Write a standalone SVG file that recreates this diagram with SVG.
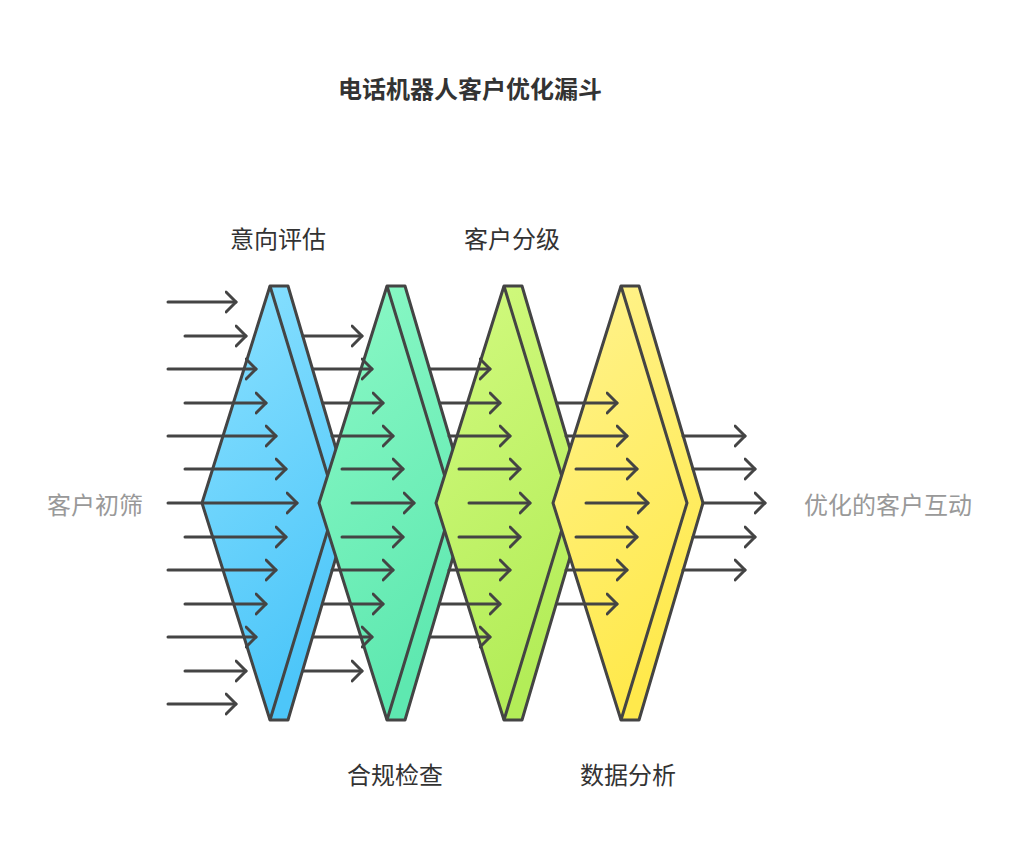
<svg xmlns="http://www.w3.org/2000/svg" width="1024" height="857" viewBox="0 0 1024 857">
<style>
.s{stroke:#444;stroke-width:3;stroke-linejoin:round}
.a{stroke:#444;stroke-width:3;fill:none;stroke-linecap:round;marker-end:url(#h)}
text{font-family:"Noto Sans CJK SC","Noto Sans",sans-serif;font-size:24px;text-anchor:middle;dominant-baseline:central}
.l{fill:#333}.g{fill:#999}
</style>
<defs>
<marker id="h" markerWidth="14" markerHeight="24" refX="11" refY="12" orient="auto" markerUnits="userSpaceOnUse"><path d="M1,2 L11,12 L1,22" fill="none" stroke="#444" stroke-width="3" stroke-linecap="round" stroke-linejoin="round"/></marker>
<linearGradient id="g1" x1="0" y1="0" x2="0.3" y2="1"><stop offset="0" stop-color="#8BE1FF"/><stop offset="1" stop-color="#4DC6F9"/></linearGradient>
<linearGradient id="g2" x1="0" y1="0" x2="0.3" y2="1"><stop offset="0" stop-color="#8CF9C6"/><stop offset="1" stop-color="#5EE8B0"/></linearGradient>
<linearGradient id="g3" x1="0" y1="0" x2="0.3" y2="1"><stop offset="0" stop-color="#D3FA80"/><stop offset="1" stop-color="#B3ED58"/></linearGradient>
<linearGradient id="g4" x1="0" y1="0" x2="0.3" y2="1"><stop offset="0" stop-color="#FFF38F"/><stop offset="1" stop-color="#FFE94C"/></linearGradient>
<g id="f"><path class="s" d="M270,286 H288 L352,503 L288,720 H270 L202,503 Z"/><path class="s" fill="none" d="M270,286 L336,503 L270,720"/></g>
</defs>
<text x="470" y="87" class="l" font-weight="bold" style="font-size:24px">电话机器人客户优化漏斗</text>
<g id="stage1"><use href="#f" fill="url(#g1)"/><text x="278" y="237" class="l">意向评估</text></g>
<g id="stage2"><use href="#f" x="117" fill="url(#g2)"/><text x="395" y="773" class="l">合规检查</text></g>
<g id="stage3"><use href="#f" x="234" fill="url(#g3)"/><text x="512" y="237" class="l">客户分级</text></g>
<g id="stage4"><use href="#f" x="351" fill="url(#g4)"/><text x="628" y="773" class="l">数据分析</text></g>
<g id="input"><text x="95" y="503" class="g">客户初筛</text></g>
<g id="output"><text x="888" y="503" class="g">优化的客户互动</text></g>
<g id="connectors">
<path class="a" d="M168,302H236"/><path class="a" d="M185,336H246"/><path class="a" d="M168,369H256"/><path class="a" d="M185,403H266"/><path class="a" d="M168,436H276"/><path class="a" d="M185,469H286"/><path class="a" d="M168,503H297"/><path class="a" d="M185,537H286"/><path class="a" d="M168,570H276"/><path class="a" d="M185,604H266"/><path class="a" d="M168,637H256"/><path class="a" d="M185,671H246"/><path class="a" d="M168,704H236"/>
<path class="a" d="M303,336H362"/><path class="a" d="M313,369H372"/><path class="a" d="M323,403H383"/><path class="a" d="M332,436H393"/><path class="a" d="M342,469H403"/><path class="a" d="M352,503H414"/><path class="a" d="M342,537H403"/><path class="a" d="M332,570H393"/><path class="a" d="M323,604H383"/><path class="a" d="M313,637H372"/><path class="a" d="M303,671H362"/>
<path class="a" d="M430,369H490"/><path class="a" d="M440,403H500"/><path class="a" d="M449,436H510"/><path class="a" d="M459,469H520"/><path class="a" d="M469,503H530"/><path class="a" d="M459,537H520"/><path class="a" d="M449,570H510"/><path class="a" d="M440,604H500"/><path class="a" d="M430,637H490"/>
<path class="a" d="M557,403H617"/><path class="a" d="M566,436H627"/><path class="a" d="M576,469H637"/><path class="a" d="M586,503H648"/><path class="a" d="M576,537H637"/><path class="a" d="M566,570H627"/><path class="a" d="M557,604H617"/>
<path class="a" d="M683,436H745"/><path class="a" d="M693,469H755"/><path class="a" d="M703,503H765"/><path class="a" d="M693,537H755"/><path class="a" d="M683,570H745"/>
</g>
</svg>
